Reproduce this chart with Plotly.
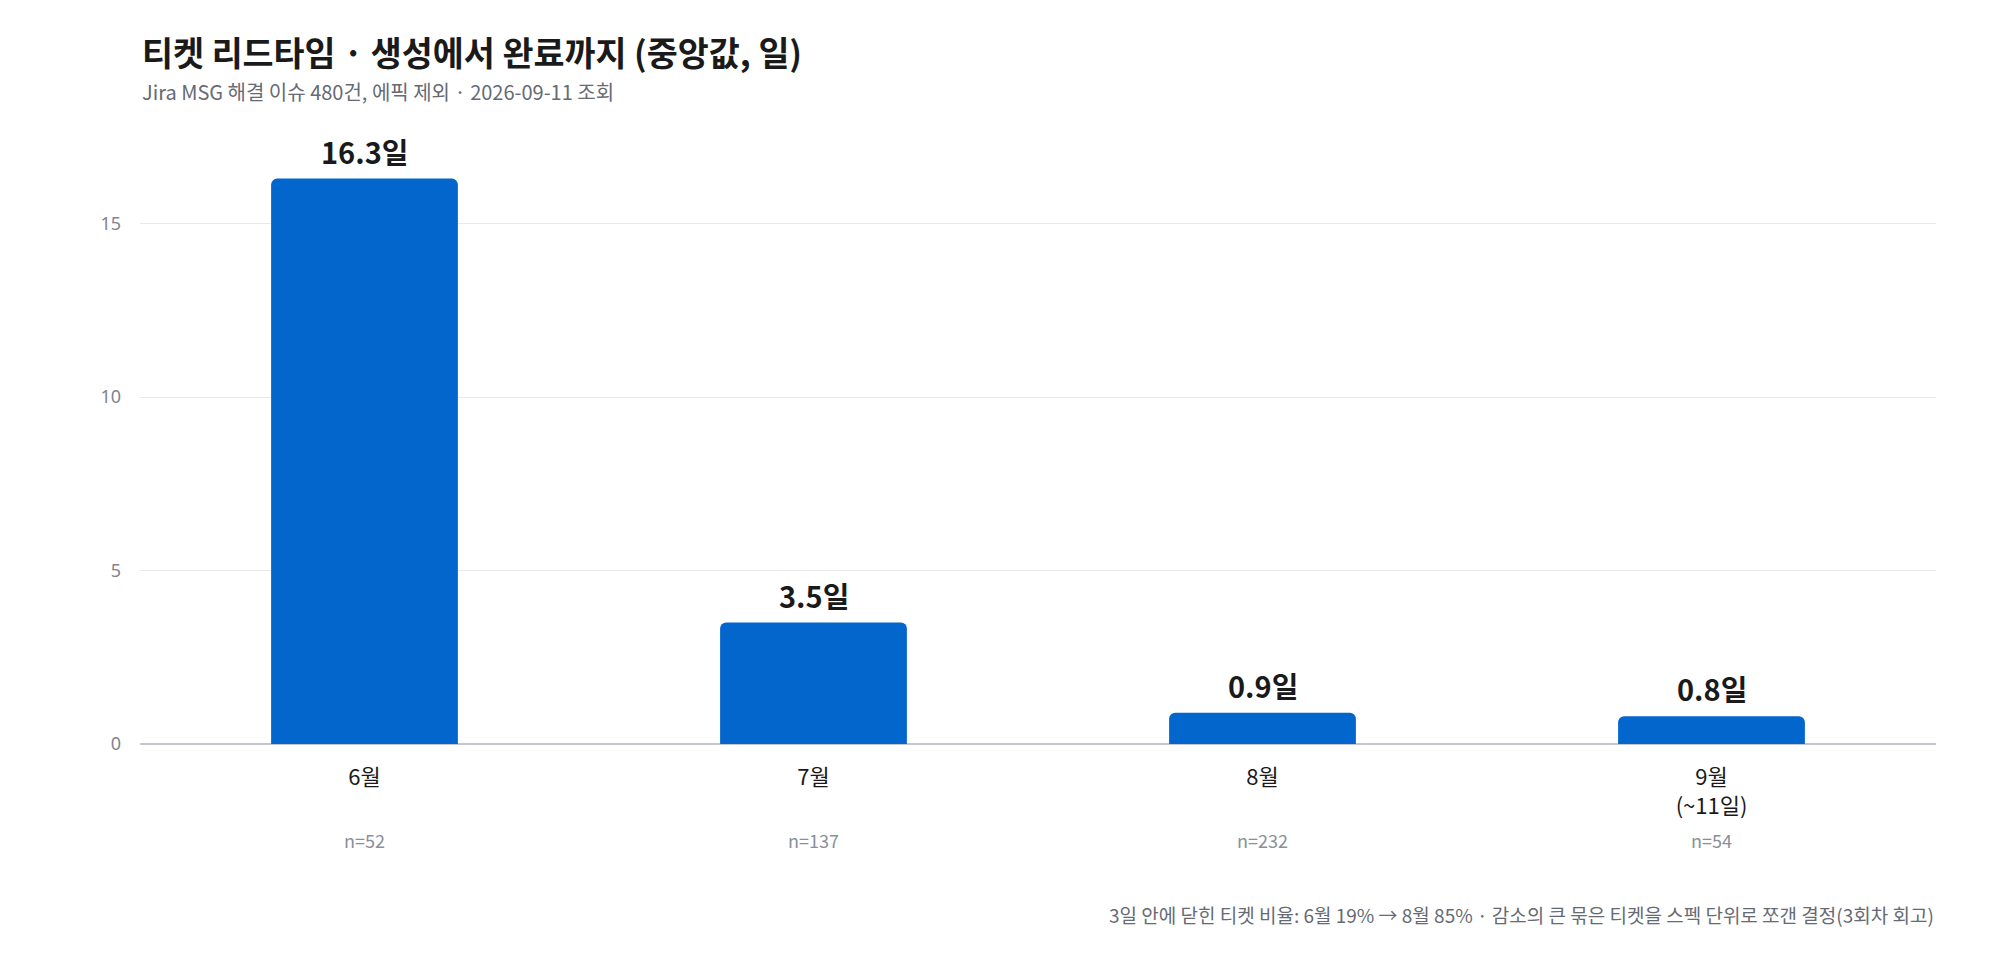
import plotly.graph_objects as go

months = ["6월", "7월", "8월", "9월<br>(~11일)"]
median_days = [16.3, 3.5, 0.9, 0.8]
counts = [52, 137, 232, 54]

title = "티켓 리드타임 · 생성에서 완료까지 (중앙값, 일)"
subtitle = "Jira MSG 해결 이슈 480건, 에픽 제외 · 2026-09-11 조회"
footnote = "3일 안에 닫힌 티켓 비율: 6월 19% → 8월 85% · 감소의 큰 묶은 티켓을 스펙 단위로 쪼갠 결정(3회차 회고)"

FONT = "Noto Sans CJK KR"
BLUE = "#0366CC"

fig = go.Figure()
fig.add_trace(go.Bar(
    x=months,
    y=median_days,
    width=0.416,
    marker=dict(color=BLUE, cornerradius=6, line=dict(width=0)),
    hoverinfo="skip",
))

# value labels above bars and n= labels under each month
for m, v, n in zip(months, median_days, counts):
    fig.add_annotation(
        x=m, y=v, xref="x", yref="y",
        text=f"<b>{v}일</b>", showarrow=False,
        yanchor="middle", yshift=28,
        font=dict(family=FONT, size=29, color="#1a1a1a"),
    )
    fig.add_annotation(
        x=m, y=0, xref="x", yref="y",
        text=f"n={n}", showarrow=False,
        yanchor="middle", yshift=-96,
        font=dict(family=FONT, size=18, color="#8a8f99"),
    )

fig.add_annotation(
    x=0, y=1, xref="paper", yref="paper",
    text=f"<b>{title}</b>", showarrow=False,
    xanchor="left", yanchor="middle", yshift=86,
    font=dict(family=FONT, size=33.7, color="#1a1a1a"),
)
fig.add_annotation(
    x=0, y=1, xref="paper", yref="paper",
    text=subtitle, showarrow=False,
    xanchor="left", yanchor="middle", yshift=46,
    font=dict(family=FONT, size=20, color="#666a73"),
)
fig.add_annotation(
    x=1, y=0, xref="paper", yref="paper",
    text=footnote, showarrow=False,
    xanchor="right", yanchor="middle", yshift=-170,
    font=dict(family=FONT, size=19, color="#666a73"),
)

fig.update_layout(
    width=2000, height=964,
    margin=dict(l=132, r=72, t=129, b=228),
    paper_bgcolor="white", plot_bgcolor="white",
    showlegend=False,
    font=dict(family=FONT),
    bargap=0.584,
)
fig.update_xaxes(
    showgrid=False, showline=False, ticks="", ticklabelstandoff=18,
    tickfont=dict(family=FONT, size=22, color="#1a1a1a"),
)
fig.update_yaxes(
    range=[0, 17.5], tickvals=[0, 5, 10, 15],
    showgrid=True, gridcolor="#e8e9ec", gridwidth=1,
    zeroline=True, zerolinecolor="#c4c7ce", zerolinewidth=2,
    showline=False, ticks="", ticklabelstandoff=18,
    tickfont=dict(family="Noto Sans", size=18, color="#80858f"),
)

fig.write_html("out.html")
